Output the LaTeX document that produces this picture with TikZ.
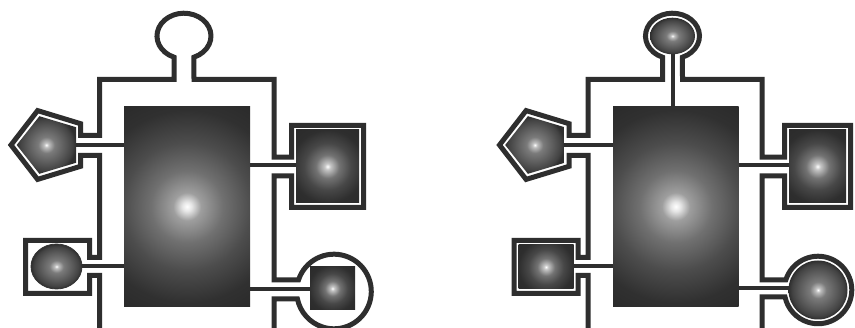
\documentclass[tikz,border=0pt]{standalone}
\pgfdeclareradialshading{glowrect}{\pgfpoint{0bp}{0bp}}{color(0bp)=(white); color(1.2bp)=(black!10); color(3.5bp)=(black!38); color(9bp)=(black!56); color(16bp)=(black!70); color(24bp)=(black!81); color(36bp)=(black!86); color(50bp)=(black!86)}
\pgfdeclareradialshading{glowball}{\pgfpoint{0bp}{0bp}}{color(0bp)=(white); color(2bp)=(black!25); color(7bp)=(black!52); color(16bp)=(black!65); color(22bp)=(black!74); color(25bp)=(black!82); color(50bp)=(black!82)}
\pgfdeclareradialshading{glowsq}{\pgfpoint{0bp}{0bp}}{color(0bp)=(white); color(2bp)=(black!22); color(8bp)=(black!55); color(16bp)=(black!72); color(25bp)=(black!82); color(50bp)=(black!86)}
\tikzset{
  wire/.style={draw=black!82, line width=5pt, line join=miter},
  sig/.style={draw=black!82, line width=4pt},
  core/.style={shading=glowrect},
  ball/.style={shading=glowball},
  sq/.style={shading=glowsq},
}
\begin{document}
\begin{tikzpicture}[x=1pt,y=-1pt]
\useasboundingbox (0,0) rectangle (855,328);
\clip (0,0) rectangle (855,328);
\fill[white] (0,0) rectangle (855,328);

% ---------------- left diagram ----------------
\draw[wire] (99.5,330) -- (99.5,275.5) -- (89.5,275.5) -- (89.5,293.5) -- (25.5,293.5) -- (25.5,240.5) -- (89.5,240.5) -- (89.5,257.5) -- (99.5,257.5)
  -- (99.5,155.5) -- (80.6,155.5) -- (80.6,166.3) -- (37.6,179.4) -- (11,145) -- (37.6,110.6) -- (80.6,123.7) -- (80.6,135.5) -- (99.5,135.5)
  -- (99.5,79.5) -- (174,79.5) -- (174,57.2) arc[start angle=111.7, end angle=428.3, x radius=27, y radius=22.8] -- (194,79.5)
  -- (274,79.5) -- (274,157.2) -- (291.5,157.2) -- (291.5,125.5) -- (363.5,125.5) -- (363.5,207.5) -- (291.5,207.5) -- (291.5,175.8) -- (274,175.8)
  -- (274,280) -- (298.5,280) arc[start angle=197.96, end angle=528.4, radius=37.3] -- (274,299) -- (274,330);

\draw[sig] (60,145) -- (124,145);
\draw[sig] (60,266.5) -- (124,266.5);
\draw[sig] (250,165.5) -- (320,165.5);
\draw[sig] (250,289.5) -- (320,289.5);

\begin{scope}
  \clip (124,106) rectangle (250,307);
  \shade[core] (87,106.5) rectangle (287,306.5);
\end{scope}
\shade[ball] (16.7,145) -- (39.4,116.2) -- (76,127.2) -- (76,162.8) -- (39.4,173.8) -- cycle;
\shade[ball, draw=black!80, line width=0.8pt] (56.5,266.5) ellipse[x radius=25.5, y radius=22.5];
\begin{scope}
  \clip (296,130) rectangle (359,203);
  \shade[sq] (291,130) rectangle (364,203);
\end{scope}
\begin{scope}
  \clip (310,267) rectangle (355,310);
  \shade[sq] (309,265) rectangle (356,312);
\end{scope}

% ---------------- right diagram ----------------
\draw[wire] (588,330) -- (588,275.5) -- (578,275.5) -- (578,293.5) -- (514,293.5) -- (514,240.5) -- (578,240.5) -- (578,257.5) -- (588,257.5)
  -- (588,155.5) -- (569.1,155.5) -- (569.1,166.3) -- (526.1,179.4) -- (499.5,145) -- (526.1,110.6) -- (569.1,123.7) -- (569.1,135.5) -- (588,135.5)
  -- (588,79.5) -- (662.5,79.5) -- (662.5,57.2) arc[start angle=111.7, end angle=428.3, x radius=27, y radius=22.8] -- (682.5,79.5)
  -- (762,79.5) -- (762,157.2) -- (784.5,157.2) -- (784.5,125.5) -- (850.5,125.5) -- (850.5,207.5) -- (784.5,207.5) -- (784.5,175.8) -- (762,175.8)
  -- (762,280) -- (785.8,280) arc[start angle=197.2, end angle=528, radius=33.75] -- (762,297) -- (762,330);

\draw[sig] (548,145) -- (613,145);
\draw[sig] (550,266.5) -- (613,266.5);
\draw[sig] (738.5,165.5) -- (810,165.5);
\draw[sig] (738.5,288.5) -- (810,288.5);
\draw[sig] (672.5,40) -- (672.5,106);

\begin{scope}
  \clip (613,106) rectangle (738.5,307);
  \shade[core] (575.75,106.5) rectangle (775.75,306.5);
\end{scope}
\shade[ball] (505.2,145) -- (527.9,116.2) -- (564.5,127.2) -- (564.5,162.8) -- (527.9,173.8) -- cycle;
\shade[ball] (672.5,36) ellipse[x radius=22.5, y radius=18.3];
\begin{scope}
  \clip (518.5,245) rectangle (573.5,289);
  \shade[sq] (518.5,239.5) rectangle (573.5,294.5);
\end{scope}
\begin{scope}
  \clip (789,130) rectangle (846,203);
  \shade[sq] (781,130) rectangle (854,203);
\end{scope}
\shade[ball] (818,290) circle[radius=29.5];
\end{tikzpicture}
\end{document}
